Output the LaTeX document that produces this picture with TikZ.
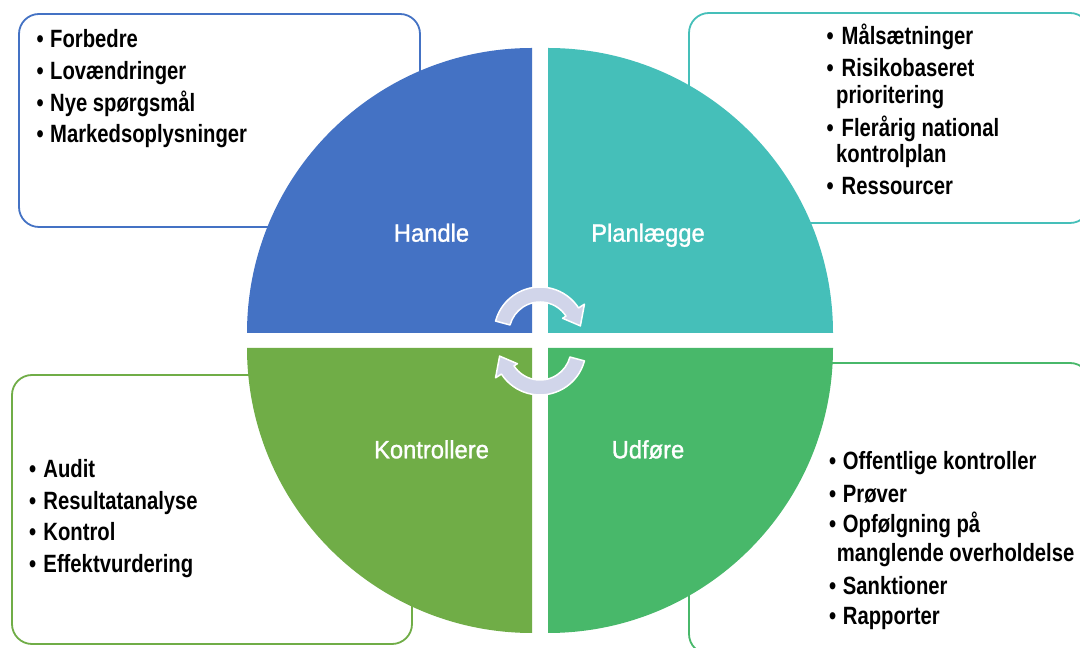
\documentclass[tikz,border=0pt]{standalone}
\usepackage{fontspec}
\setmainfont{Liberation Sans}
\newfontfamily\bodyfont[FakeStretch=0.81]{Liberation Sans Bold}
\newfontfamily\labelfont[FakeStretch=0.95,FakeBold=1.2]{Liberation Sans}
\definecolor{cblue}{RGB}{68,114,196}
\definecolor{cteal}{RGB}{69,191,185}
\definecolor{cgreenL}{RGB}{112,173,71}
\definecolor{cgreenR}{RGB}{72,184,106}
\definecolor{carrow}{RGB}{209,213,234}
\newcommand\mybul[1]{\makebox[#1][l]{•}}
\begin{document}
\begin{tikzpicture}[x=1pt,y=1pt,
  boxline/.style={line width=1.8pt, rounded corners=20pt, fill=white},
  arrowfill/.style={fill=carrow, draw=white, line width=1.5pt, line join=round},
  item/.style={anchor=base west, inner sep=0pt, font=\bodyfont\fontsize{25}{30}\selectfont},
  lbl/.style={anchor=base, inner sep=0pt, text=white, font=\labelfont\fontsize{25}{30}\selectfont}]
\useasboundingbox (0,0) rectangle (1080,648);
\fill[white] (0,0) rectangle (1080,648);
% boxes
\draw[boxline, draw=cblue] (19,634) rectangle (420,421);
\draw[boxline, draw=cteal] (689,635) rectangle (1090,425);
\draw[boxline, draw=cgreenL] (12,273) rectangle (412,4);
\draw[boxline, draw=cgreenR] (689,285) rectangle (1090,-6);
% quadrants
\fill[cblue] (532,315) -- (247,315) arc[start angle=180,end angle=90,radius=285] -- cycle;
\fill[cteal] (548,315) -- (548,600) arc[start angle=90,end angle=0,radius=285] -- cycle;
\fill[cgreenL] (532,300) -- (532,15) arc[start angle=270,end angle=180,radius=285] -- cycle;
\fill[cgreenR] (548,300) -- (833,300) arc[start angle=0,end angle=-90,radius=285] -- cycle;
% cycle arrows
\begin{scope}[shift={(540,315)}]
\filldraw[arrowfill] (165:31) -- (165:46) arc[start angle=165,end angle=33,radius=46] -- (33:53) -- (10:41) -- (33:27) -- (33:31) arc[start angle=33,end angle=165,radius=31] -- cycle;
\end{scope}
\begin{scope}[shift={(540,299)}, rotate=180]
\filldraw[arrowfill] (165:31) -- (165:46) arc[start angle=165,end angle=33,radius=46] -- (33:53) -- (10:41) -- (33:27) -- (33:31) arc[start angle=33,end angle=165,radius=31] -- cycle;
\end{scope}
% quadrant labels
\node[lbl] (handle) at (431.5,406.3) {Handle};
\node[lbl] (plan) at (648,406.3) {Planlægge};
\node[lbl] (kontr) at (431.5,189.7) {Kontrollere};
\node[lbl] (udf) at (648,189.7) {Udføre};
% top-left list
\node[item] (tl1) at (36.5,600) {\mybul{13.5pt}Forbedre};
\node[item] (tl2) at (36.5,568) {\mybul{13.5pt}Lovændringer};
\node[item] (tl3) at (36.5,536.5) {\mybul{13.5pt}Nye spørgsmål};
\node[item] (tl4) at (36.5,505) {\mybul{13.5pt}Markedsoplysninger};
% top-right list
\node[item] (tr1) at (826.5,603) {\mybul{15pt}Målsætninger};
\node[item] (tr2) at (826.5,571) {\mybul{15pt}Risikobaseret};
\node[item] (tr2b) at (836,544.5) {prioritering};
\node[item] (tr3) at (826.5,511.5) {\mybul{15pt}Flerårig national};
\node[item] (tr3b) at (836,485) {kontrolplan};
\node[item] (tr4) at (826.5,453) {\mybul{15pt}Ressourcer};
% bottom-left list
\node[item] (bl1) at (29,170) {\mybul{14.3pt}Audit};
\node[item] (bl2) at (29,138.5) {\mybul{14.3pt}Resultatanalyse};
\node[item] (bl3) at (29,107) {\mybul{14.3pt}Kontrol};
\node[item] (bl4) at (29,75) {\mybul{14.3pt}Effektvurdering};
% bottom-right list
\node[item] (br1) at (829,178) {\mybul{13.7pt}Offentlige kontroller};
\node[item] (br2) at (829,145) {\mybul{13.7pt}Prøver};
\node[item] (br3) at (829,115) {\mybul{13.7pt}Opfølgning på};
\node[item] (br3b) at (836.7,86) {manglende overholdelse};
\node[item] (br4) at (829,53) {\mybul{13.7pt}Sanktioner};
\node[item] (br5) at (829,23) {\mybul{13.7pt}Rapporter};
\end{tikzpicture}
\end{document}
